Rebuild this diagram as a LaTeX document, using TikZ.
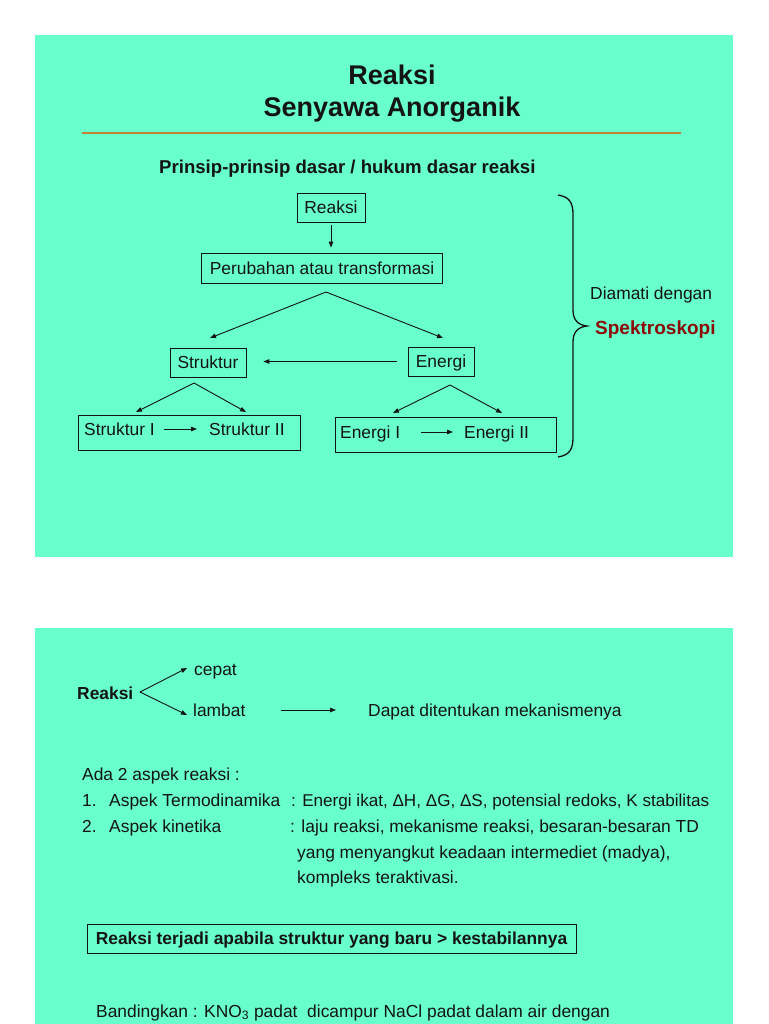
\documentclass[tikz,border=0pt]{standalone}
\usepackage{fontspec}
\setmainfont{Liberation Sans}
\usetikzlibrary{arrows.meta}
\definecolor{panel}{RGB}{104,255,204}
\definecolor{rule}{RGB}{196,128,52}
\definecolor{spekred}{RGB}{140,10,10}
\definecolor{ink}{RGB}{20,20,20}
\tikzset{
  lbl/.style={font=\fontsize{17.4}{20}\selectfont, inner sep=0pt, text height=12.5pt, text depth=0pt, text=ink},
  lblb/.style={lbl, font=\fontsize{17.4}{20}\selectfont\bfseries},
  titlefont/.style={font=\fontsize{27}{32}\selectfont\bfseries, inner sep=0pt, text height=19.5pt, text depth=0pt, text=ink},
  subfont/.style={font=\fontsize{18.6}{22}\selectfont\bfseries, inner sep=0pt, text height=13.4pt, text depth=0pt, text=ink},
  spek/.style={font=\fontsize{19}{22}\selectfont\bfseries, inner sep=0pt, text height=13.7pt, text depth=0pt, text=spekred},
  boxed/.style={lbl, draw=ink, line width=0.8pt},
  arr/.style={draw=ink, line width=0.9pt, -{Triangle[length=6pt,width=4.5pt]}},
}
\begin{document}
\begin{tikzpicture}[x=1pt,y=-1pt]
\useasboundingbox (0,0) rectangle (768,1024);
\fill[white] (0,0) rectangle (768,1024);
\fill[panel] (35,35) rectangle (733,557);
\fill[panel] (35,628) rectangle (733,1024);

% ---------- panel 1 ----------
\node[titlefont] (t1) at (392,75) {Reaksi};
\node[titlefont] (t2) at (392,107) {Senyawa Anorganik};
\draw[rule, line width=2.5pt] (82,133) -- (681,133);
\node[subfont, anchor=west] (pr) at (159,167) {Prinsip-prinsip dasar / hukum dasar reaksi};

\node[boxed, minimum width=68, minimum height=29] (re) at (331,207.5) {Reaksi};
\node[boxed, minimum width=241, minimum height=30] (pe) at (322,268) {Perubahan atau transformasi};
\node[boxed, minimum width=76, minimum height=29] (st) at (208,362.5) {Struktur};
\node[boxed, minimum width=66, minimum height=29] (en) at (441,361.5) {Energi};
\node[boxed, minimum width=222, minimum height=35] (sb) at (189,432.5) {};
\node[boxed, minimum width=221, minimum height=35] (eb) at (445.5,434.5) {};

\node[lbl, anchor=west] (s1) at (84,429) {Struktur I};
\node[lbl, anchor=west] (s2) at (209,429) {Struktur II};
\node[lbl, anchor=west] (e1) at (340,432) {Energi I};
\node[lbl, anchor=west] (e2) at (464,432) {Energi II};

\draw[arr, shorten <=3pt, shorten >=5pt] (re.south) -- (re.south |- pe.north);

\coordinate (pa) at (326,292);
\coordinate (pl) at (210,338);
\coordinate (pq) at (443,338);
\draw[arr] (pa) -- (pl);
\draw[arr] (pa) -- (pq);

\draw[arr] ([xshift=-11pt]en.west) -- ([xshift=17pt]st.east |- en.west);

\coordinate (sa) at (194,383);
\coordinate (sl) at (136,412);
\coordinate (sr) at (246,412);
\draw[arr] (sa) -- (sl);
\draw[arr] (sa) -- (sr);

\coordinate (ea) at (450,385);
\coordinate (el) at (393,413);
\coordinate (er) at (502,413);
\draw[arr] (ea) -- (el);
\draw[arr] (ea) -- (er);

\draw[arr, shorten <=9pt, shorten >=12pt] (s1.east) -- (s2.west);
\draw[arr, shorten <=21pt, shorten >=11pt] (e1.east) -- (e2.west);

% brace
\draw[ink, line width=1.3pt] (558,195) .. controls (570,197) and (573,203) .. (573,215)
  -- (573,310) .. controls (573,320) and (578,325) .. (587,326)
  .. controls (578,327) and (573,332) .. (573,342)
  -- (573,437) .. controls (573,449) and (570,455) .. (558,457);

\node[lbl, anchor=west] (dm) at (590,293) {Diamati dengan};
\node[spek, anchor=west] (sp) at (595,328) {Spektroskopi};

% ---------- panel 2 ----------
\node[lblb, anchor=west] (r2) at (77,693) {Reaksi};
\coordinate (ap) at (140,692);
\coordinate (c1) at (187,668);
\coordinate (c2) at (187,715);
\draw[arr] (ap) -- (c1);
\draw[arr] (ap) -- (c2);
\node[lbl, anchor=west] (ce) at (194,669) {cepat};
\node[lbl, anchor=west] (la) at (193,710) {lambat};
\node[lbl, anchor=west] (dp) at (368,710) {Dapat ditentukan mekanismenya};
\draw[arr, shorten <=35pt, shorten >=32pt] (la.east) -- (dp.west);

\node[lbl, anchor=west] (ad) at (82,774) {Ada 2 aspek reaksi :};
\node[lbl, anchor=west] (n1) at (82,800) {1.};
\node[lbl, anchor=west] (a1) at (109,800) {Aspek Termodinamika};
\node[lbl, anchor=west, font=\fontsize{17.1}{20}\selectfont] (d1) at (291,800) {: Energi ikat, ΔH, ΔG, ΔS, potensial redoks, K stabilitas};
\node[lbl, anchor=west] (n2) at (82,826) {2.};
\node[lbl, anchor=west] (a2) at (109,826) {Aspek kinetika};
\node[lbl, anchor=west] (d2) at (290,826) {: laju reaksi, mekanisme reaksi, besaran-besaran TD};
\node[lbl, anchor=west] (d3) at (297,852) {yang menyangkut keadaan intermediet (madya),};
\node[lbl, anchor=west] (d4) at (297,877) {kompleks teraktivasi.};

\node[boxed, font=\fontsize{17.4}{20}\selectfont\bfseries, minimum width=489, minimum height=29] (bx) at (331.5,938.5) {Reaksi terjadi apabila struktur yang baru > kestabilannya};

\node[lbl, anchor=west] (bd) at (96,1011) {Bandingkan : KNO\textsubscript{3} padat\ \ dicampur NaCl padat dalam air dengan};
\end{tikzpicture}
\end{document}
